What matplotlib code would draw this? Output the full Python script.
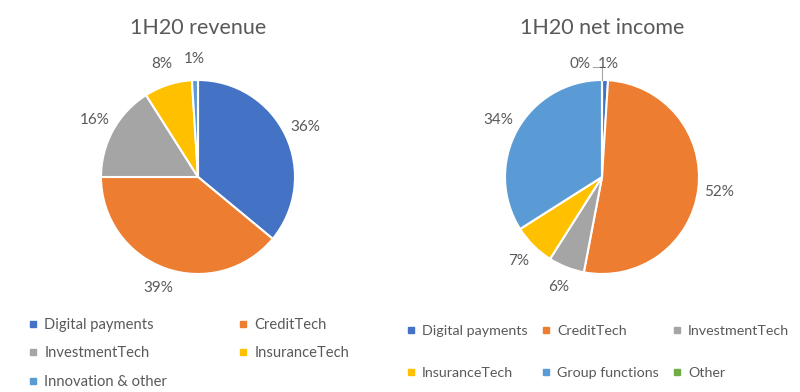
import matplotlib
matplotlib.use("Agg")
import matplotlib.pyplot as plt
from matplotlib.lines import Line2D
import numpy as np

plt.rcParams['font.family'] = ['Lato', 'DejaVu Sans']

rev_labels = ["Digital payments", "CreditTech", "InvestmentTech", "InsuranceTech", "Innovation & other"]
rev_values = [36, 39, 16, 8, 1]
rev_colors = ["#4472C4", "#ED7D31", "#A5A5A5", "#FFC000", "#5B9BD5"]

ni_labels = ["Digital payments", "CreditTech", "InvestmentTech", "InsuranceTech", "Group functions", "Other"]
ni_values = [1, 52, 6, 7, 34, 0]
ni_colors = ["#4472C4", "#ED7D31", "#A5A5A5", "#FFC000", "#5B9BD5", "#70AD47"]

TXT = "#595959"
W, H = 800, 392
fig = plt.figure(figsize=(W / 100, H / 100), dpi=100)
fig.patch.set_facecolor("white")

R = 97.0
half = 130.0
lim = half / R


def make_ax(cx, cy):
    ax = fig.add_axes([(cx - half) / W, (H - cy - half) / H, 2 * half / W, 2 * half / H])
    return ax


def draw(ax, values, colors):
    wedges, texts = ax.pie(values, colors=colors, startangle=90, counterclock=False,
                           labels=[f"{v}%" for v in values], labeldistance=1.22,
                           wedgeprops=dict(edgecolor="white", linewidth=1.5),
                           textprops=dict(color=TXT, fontsize=11))
    for t in texts:
        t.set_ha("center")
    ax.set_xlim(-lim, lim)
    ax.set_ylim(-lim, lim)
    ax.set_aspect("equal")
    ax.axis("off")
    return wedges, texts


ax1 = make_ax(198, 177)
draw(ax1, rev_values, rev_colors)

ax2 = make_ax(602, 177)
w2, t2 = draw(ax2, ni_values, ni_colors)
# separate the overlapping labels at the top (1% and 0%)
t2[0].set_ha("left")
t2[5].set_ha("right")
t2[0].set_position((-0.04, 1.17))
t2[5].set_position((-0.12, 1.17))
ax2.plot([-0.09, 0.0, 0.0], [1.13, 1.13, 1.0], color="#A5A5A5", lw=0.8)

fig.text(198 / W, 1 - 28 / H, "1H20 revenue", ha="center", va="center", fontsize=15.5, color=TXT)
fig.text(602 / W, 1 - 28 / H, "1H20 net income", ha="center", va="center", fontsize=15.5, color=TXT)


def handles(labels, colors, ncol):
    hs = [Line2D([], [], marker="s", linestyle="", markersize=5, color=c, label=l)
          for l, c in zip(labels, colors)]
    # reorder so the legend reads row by row
    nrow = int(np.ceil(len(hs) / ncol))
    grid = [[None] * ncol for _ in range(nrow)]
    for i, h in enumerate(hs):
        grid[i // ncol][i % ncol] = h
    out = []
    for c in range(ncol):
        for r in range(nrow):
            if grid[r][c] is not None:
                out.append(grid[r][c])
    return out


fig.legend(handles=handles(rev_labels, rev_colors, 2), loc="upper left",
           bbox_to_anchor=(29 / W, 1 - 318 / H), ncol=2, frameon=False,
           fontsize=10.6, labelcolor=TXT, handlelength=0.6, handletextpad=0.45,
           columnspacing=4.85, labelspacing=0.98, borderpad=0, borderaxespad=0)

fig.legend(handles=handles(ni_labels, ni_colors, 3), loc="upper left",
           bbox_to_anchor=(407 / W, 1 - 325 / H), ncol=3, frameon=False,
           fontsize=10.3, labelcolor=TXT, handlelength=0.6, handletextpad=0.45,
           columnspacing=1.0, labelspacing=2.1, borderpad=0, borderaxespad=0)

fig.savefig("out.png", dpi=100, facecolor="white")
